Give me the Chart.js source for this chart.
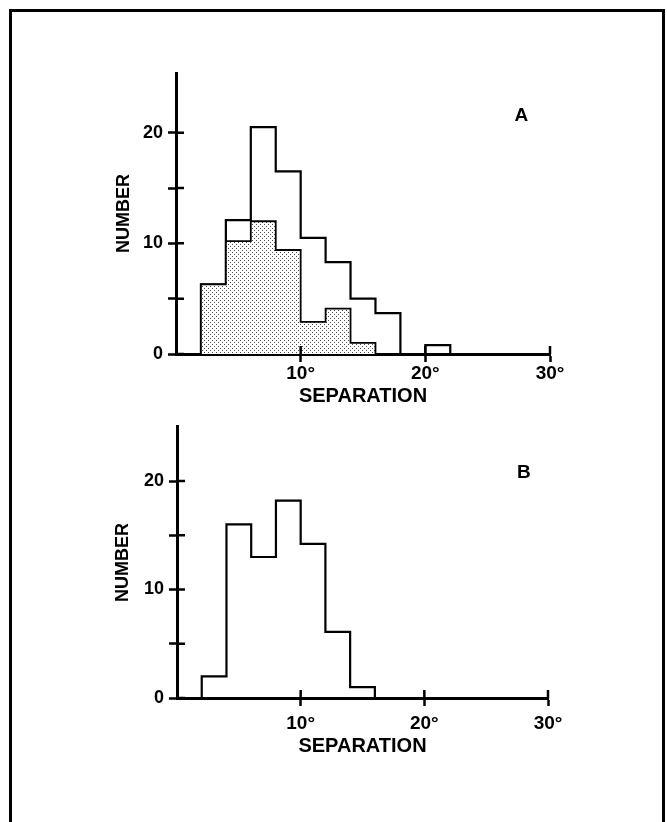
<!DOCTYPE html>
<html>
<head>
<meta charset="utf-8">
<script src="https://cdn.jsdelivr.net/npm/chart.js@4"></script>
<style>
  html, body { margin: 0; padding: 0; background: #fff; }
  #page { position: relative; width: 667px; height: 822px; overflow: hidden; }
  #frame {
    position: absolute; left: 9px; top: 9px; width: 650px; height: 840px;
    border: 3px solid #000;
  }
  canvas { position: absolute; left: 0; }
  #chart-a { top: 0; }
  #chart-b { top: 411px; }
</style>
</head>
<body>
<div id="page">
  <div id="frame"></div>
  <canvas id="chart-a" width="667" height="411"></canvas>
  <canvas id="chart-b" width="667" height="411"></canvas>
</div>
<script>
// Histogram bins (degrees of separation)
const binEdges = [2, 4, 6, 8, 10, 12, 14, 16, 18, 20, 22];

// Panel A: all pairs (outline) and the shaded subset
const countsAll = [6.3, 12.1, 20.5, 16.5, 10.5, 8.3, 5, 3.7, 0, 0.8];
const countsShaded = [6.3, 10.2, 12, 9.4, 2.9, 4.1, 1, 0, 0, 0];

// Panel B
const countsB = [2, 16, 13, 18.2, 14.2, 6.1, 1];

// Axis ticks
const numberTicks = [0, 5, 10, 15, 20];
const numberLabels = [0, 10, 20];
const separationTicks = [10, 20, 30];

const FONT = '"Liberation Sans", Arial, Helvetica, sans-serif';

// Turn bin edges + counts into the corner points of a step outline
function histOutline(edges, counts) {
  const pts = [{ x: edges[0], y: 0 }];
  counts.forEach((c, i) => {
    pts.push({ x: edges[i], y: c });
    pts.push({ x: edges[i + 1], y: c });
  });
  pts.push({ x: edges[counts.length], y: 0 });
  return pts;
}

// Dotted stipple fill used for the shaded histogram
function stipple() {
  const c = document.createElement('canvas');
  c.width = 4;
  c.height = 4;
  const g = c.getContext('2d');
  g.fillStyle = '#fff';
  g.fillRect(0, 0, 4, 4);
  g.fillStyle = '#4a4a4a';
  g.fillRect(0, 0, 1, 1);
  g.fillRect(2, 2, 1, 1);
  return g.createPattern(c, 'repeat');
}

// Tick marks that cross the axis (Chart.js only draws the outer half)
const innerTicks = {
  id: 'innerTicks',
  afterDraw(chart) {
    const { ctx, chartArea, scales } = chart;
    ctx.save();
    ctx.strokeStyle = '#000';
    ctx.lineWidth = 2.5;
    ctx.beginPath();
    scales.y.ticks.forEach(t => {
      const py = scales.y.getPixelForValue(t.value);
      ctx.moveTo(chartArea.left, py);
      ctx.lineTo(chartArea.left + 8, py);
    });
    scales.x.ticks.forEach(t => {
      const px = scales.x.getPixelForValue(t.value);
      ctx.moveTo(px, chartArea.bottom);
      ctx.lineTo(px, chartArea.bottom - 8);
    });
    ctx.stroke();
    ctx.restore();
  }
};

// Panel letter (A / B) placed in data space
const panelLetter = {
  id: 'panelLetter',
  afterDraw(chart, args, opts) {
    const { ctx, scales } = chart;
    ctx.save();
    ctx.fillStyle = '#000';
    ctx.font = 'bold 19px ' + FONT;
    ctx.textAlign = 'center';
    ctx.textBaseline = 'middle';
    ctx.fillText(opts.text, scales.x.getPixelForValue(opts.x), scales.y.getPixelForValue(opts.y));
    ctx.restore();
  }
};

function makeOptions(cfg) {
  return {
    responsive: false,
    animation: false,
    layout: { padding: cfg.padding },
    plugins: {
      legend: { display: false },
      tooltip: { enabled: false },
      panelLetter: cfg.letter
    },
    scales: {
      x: {
        type: 'linear',
        min: 0,
        max: 30,
        afterBuildTicks: scale => { scale.ticks = separationTicks.map(v => ({ value: v })); },
        afterFit: scale => { scale.height = cfg.xHeight; },
        ticks: {
          color: '#000',
          padding: cfg.xTickPad,
          maxRotation: 0,
          font: { family: FONT, size: 19, weight: 'bold' },
          callback: v => v + '°'
        },
        grid: {
          drawOnChartArea: false,
          tickLength: 8,
          tickWidth: 2.5,
          tickColor: '#000',
          color: '#000'
        },
        border: { display: true, color: '#000', width: 3 },
        title: {
          display: true,
          text: 'SEPARATION',
          color: '#000',
          padding: { top: 0, bottom: cfg.xTitlePad },
          font: { family: FONT, size: 20, weight: 'bold' }
        }
      },
      y: {
        min: 0,
        max: cfg.yMax,
        afterBuildTicks: scale => { scale.ticks = numberTicks.map(v => ({ value: v })); },
        afterFit: scale => { scale.width = 70; },
        ticks: {
          color: '#000',
          padding: 5,
          font: { family: FONT, size: 18, weight: 'bold' },
          callback: v => (numberLabels.includes(v) ? String(v) : '')
        },
        grid: {
          drawOnChartArea: false,
          tickLength: 8,
          tickWidth: 2.5,
          tickColor: '#000',
          color: '#000'
        },
        border: { display: true, color: '#000', width: 3 },
        title: {
          display: true,
          text: 'NUMBER',
          color: '#000',
          padding: { top: cfg.yTitlePad, bottom: 0 },
          font: { family: FONT, size: 18, weight: 'bold' }
        }
      }
    }
  };
}

new Chart(document.getElementById('chart-a'), {
  type: 'line',
  data: {
    datasets: [
      {
        data: histOutline(binEdges, countsShaded),
        borderColor: '#000',
        borderWidth: 1.8,
        backgroundColor: stipple(),
        fill: 'origin',
        pointRadius: 0,
        tension: 0,
        clip: false
      },
      {
        data: histOutline(binEdges, countsAll),
        borderColor: '#000',
        borderWidth: 2.2,
        fill: false,
        pointRadius: 0,
        tension: 0,
        clip: false
      }
    ]
  },
  options: makeOptions({
    padding: { left: 106, right: 117, top: 73, bottom: 2 },
    yMax: 25.4,
    xHeight: 55,
    xTickPad: 0,
    xTitlePad: 1,
    yTitlePad: 7,
    letter: { text: 'A', x: 27.7, y: 21.5 }
  }),
  plugins: [innerTicks, panelLetter]
});

new Chart(document.getElementById('chart-b'), {
  type: 'line',
  data: {
    datasets: [
      {
        data: histOutline(binEdges, countsB),
        borderColor: '#000',
        borderWidth: 2.2,
        fill: false,
        pointRadius: 0,
        tension: 0,
        clip: false
      }
    ]
  },
  options: makeOptions({
    padding: { left: 107, right: 119, top: 7, bottom: 62 },
    yMax: 25,
    xHeight: 62,
    xTickPad: 6,
    xTitlePad: 2,
    yTitlePad: 5,
    letter: { text: 'B', x: 28.05, y: 20.8 }
  }),
  plugins: [innerTicks, panelLetter]
});
</script>
</body>
</html>
